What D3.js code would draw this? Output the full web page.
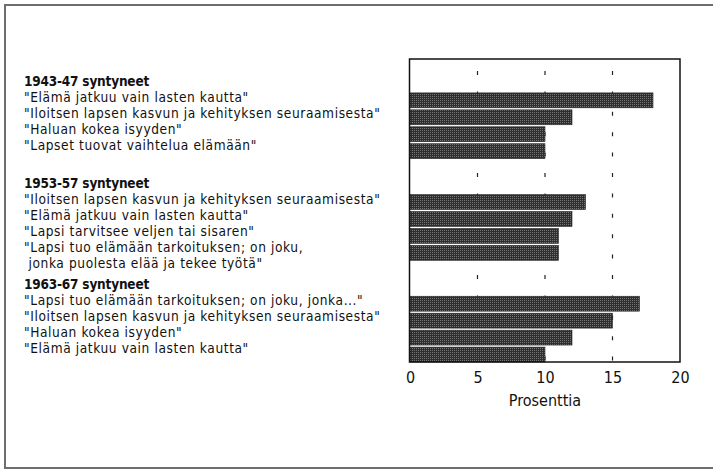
<!DOCTYPE html>
<html>
<head>
<meta charset="utf-8">
<script src="https://cdn.jsdelivr.net/npm/d3@7"></script>
<style>
  html, body { margin: 0; padding: 0; background: #fff; }
  svg { display: block; }
  text { font-family: "Liberation Sans Narrow", "DejaVu Sans Condensed", "Arial Narrow", sans-serif; fill: #111; }
</style>
</head>
<body>
<script>
// Reasons for wanting children, by birth cohort (percent)
const groups = ["1943-47 syntyneet", "1953-57 syntyneet", "1963-67 syntyneet"];
const labels1943 = ["\"Elämä jatkuu vain lasten kautta\"",
                    "\"Iloitsen lapsen kasvun ja kehityksen seuraamisesta\"",
                    "\"Haluan kokea isyyden\"",
                    "\"Lapset tuovat vaihtelua elämään\""];
const values1943 = [18, 12, 10, 10];
const labels1953 = ["\"Iloitsen lapsen kasvun ja kehityksen seuraamisesta\"",
                    "\"Elämä jatkuu vain lasten kautta\"",
                    "\"Lapsi tarvitsee veljen tai sisaren\"",
                    "\"Lapsi tuo elämään tarkoituksen; on joku,\n jonka puolesta elää ja tekee työtä\""];
const values1953 = [13, 12, 11, 11];
const labels1963 = ["\"Lapsi tuo elämään tarkoituksen; on joku, jonka...\"",
                    "\"Iloitsen lapsen kasvun ja kehityksen seuraamisesta\"",
                    "\"Haluan kokea isyyden\"",
                    "\"Elämä jatkuu vain lasten kautta\""];
const values1963 = [17, 15, 12, 10];
const xTicks = [0, 5, 10, 15, 20];
const xTitle = "Prosenttia";

const labelSets = [labels1943, labels1953, labels1963];
const valueSets = [values1943, values1953, values1963];

const W = 713, H = 470;
const svg = d3.select("body").append("svg").attr("width", W).attr("height", H);

// halftone-like screen for the bars
const defs = svg.append("defs");
const pat = defs.append("pattern").attr("id", "screen")
  .attr("width", 2).attr("height", 2).attr("patternUnits", "userSpaceOnUse");
pat.append("rect").attr("width", 2).attr("height", 2).attr("fill", "#2e2e2e");
pat.append("rect").attr("x", 0).attr("y", 0).attr("width", 1).attr("height", 1).attr("fill", "#767676");

// outer frame (top, left, bottom)
svg.append("path")
  .attr("d", `M${W + 2},5 H5 V468 H${W + 2}`)
  .attr("fill", "none").attr("stroke", "#6e6e6e").attr("stroke-width", 2);

// plot area
const plot = { left: 409.5, right: 680, top: 59, bottom: 362 };

const x = d3.scaleLinear().domain([0, 20]).range([plot.left + 0.5, plot.right]);

// rows: two blank slots before each group of four bars
const rows = [];
groups.forEach((g, gi) => {
  rows.push(`gap${gi}a`, `gap${gi}b`);
  valueSets[gi].forEach((v, i) => rows.push(`g${gi}r${i}`));
});
const y = d3.scaleBand().domain(rows).range([plot.top, plot.bottom]).paddingInner(0.12).paddingOuter(0);

// dotted reference lines at the inner ticks
svg.append("g").selectAll("line")
  .data(xTicks.filter(t => t > 0 && t < 20))
  .join("line")
  .attr("x1", d => x(d)).attr("x2", d => x(d))
  .attr("y1", 71).attr("y2", plot.bottom)
  .attr("stroke", "#222").attr("stroke-width", 1.2)
  .attr("stroke-dasharray", "4 16.4");

// bars
const barData = [];
valueSets.forEach((vals, gi) => vals.forEach((v, i) => barData.push({ key: `g${gi}r${i}`, v })));
svg.append("g").selectAll("rect")
  .data(barData)
  .join("rect")
  .attr("x", x(0))
  .attr("y", d => y(d.key))
  .attr("width", d => x(d.v) - x(0))
  .attr("height", y.bandwidth())
  .attr("fill", "url(#screen)")
  .attr("stroke", "#222").attr("stroke-width", 0.6);

// frame of the plot
svg.append("rect")
  .attr("x", plot.left).attr("y", plot.top)
  .attr("width", plot.right - plot.left).attr("height", plot.bottom - plot.top)
  .attr("fill", "none").attr("stroke", "#111").attr("stroke-width", 1.5);

// x axis labels
const xAxis = d3.axisBottom(x).tickValues(xTicks).tickSize(0).tickPadding(9).tickFormat(d3.format("d"));
const ax = svg.append("g").attr("transform", `translate(0,${plot.bottom})`).call(xAxis);
ax.select(".domain").remove();
ax.selectAll("text").attr("font-size", 16).attr("fill", "#111").attr("dy", "0.72em")
  .style("font-family", "\"Liberation Sans Narrow\", \"DejaVu Sans Condensed\", sans-serif");

svg.append("text")
  .attr("x", x(10)).attr("y", 406)
  .attr("text-anchor", "middle").attr("font-size", 16)
  .text(xTitle);

// category labels on the left: one text block per cohort
const lineH = 16;
const textX = 24;
groups.forEach((g, gi) => {
  const headY = y(`g${gi}r0`) - 7;
  const block = svg.append("text")
    .attr("x", textX).attr("y", headY)
    .attr("xml:space", "preserve")
    .style("white-space", "pre");
  block.append("tspan")
    .attr("x", textX).attr("y", headY)
    .attr("font-size", 13.5).attr("font-weight", "bold").attr("letter-spacing", -0.2)
    .text(g);
  let line = 1;
  labelSets[gi].forEach(lbl => {
    lbl.split("\n").forEach(part => {
      block.append("tspan")
        .attr("x", textX).attr("y", headY + line * lineH)
        .attr("font-size", 13.6).attr("letter-spacing", 0.6)
        .text(part);
      line++;
    });
  });
});
</script>
</body>
</html>
